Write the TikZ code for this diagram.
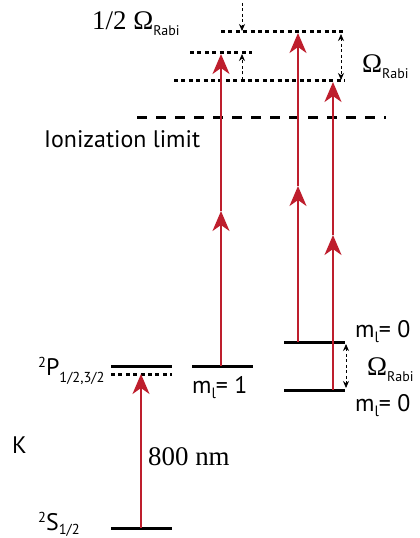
\documentclass[tikz,border=0pt]{standalone}
\usepackage{fontspec}
\setmainfont{PT Sans}
\newfontfamily\serif{Liberation Serif}
\usetikzlibrary{arrows.meta}
\definecolor{myred}{RGB}{190,30,45}
\tikzset{
  level/.style={line width=3bp, black},
  dotlevel/.style={line width=3bp, black, dash pattern=on 4bp off 3.4bp},
  ionlevel/.style={line width=3bp, black, dash pattern=on 10bp off 9bp},
  laser/.style={line width=2.3bp, myred, -{Stealth[length=20bp,width=17bp,inset=6bp]}},
  gap/.style={line width=0.8bp, black, dash pattern=on 3bp off 2.5bp, -{Stealth[length=7bp,width=6bp]}},
  gapboth/.style={line width=0.8bp, black, dash pattern=on 3bp off 2.5bp, {Stealth[length=7bp,width=6bp]}-{Stealth[length=7bp,width=6bp]}},
  lbl/.style={inner sep=0, anchor=base west, font=\fontsize{24}{26}\selectfont}
}
\newcommand{\rabi}{{\fontsize{14}{15}\selectfont Rabi}}
\newcommand{\lsub}{\raisebox{-5bp}{\fontsize{15}{15}\selectfont l}}
\begin{document}
\begin{tikzpicture}[x=1bp, y=-1bp]
\useasboundingbox (0,0) rectangle (419,538);
% levels
\draw[level] (111,528) -- (172,528);
\coordinate (g) at (141,528);
\draw[level] (111,366) -- (172,366);
\draw[dotlevel] (111,374) -- (172,374);
\coordinate (p) at (141,374);
\draw[level] (192,366) -- (253,366);
\coordinate (m1) at (221,366);
\draw[level] (284,342) -- (345,342);
\draw[level] (284,390) -- (345,390);
\coordinate (m0a) at (298,342);
\coordinate (m0b) at (333,390);
% upper dotted levels
\draw[dotlevel] (221,32) -- (345,32);
\draw[dotlevel] (190,53) -- (252,53);
\draw[dotlevel] (174,81) -- (345,81);
\draw[ionlevel] (137,118) -- (386,118);
% laser arrows
\coordinate (m1mid) at (221,211);
\coordinate (m1top) at (221,54);
\coordinate (aMid) at (298,186);
\coordinate (aTop) at (298,33);
\coordinate (bMid) at (333,235);
\coordinate (bTop) at (333,82);
\draw[laser] (g) -- (p);
\draw[laser] (m1) -- (m1mid);
\draw[laser] (m1mid) -- (m1top);
\draw[laser] (m0a) -- (aMid);
\draw[laser] (aMid) -- (aTop);
\draw[laser] (m0b) -- (bMid);
\draw[laser] (bMid) -- (bTop);
% gap arrows
\coordinate (s1) at (242,3);
\coordinate (s1e) at (242,31);
\coordinate (s2) at (242,80);
\coordinate (s2e) at (242,54);
\draw[gap] (s1) -- (s1e);
\draw[gap] (s2) -- (s2e);
\coordinate (o1a) at (341,34);
\coordinate (o1b) at (341,80);
\draw[gapboth] (o1a) -- (o1b);
\coordinate (o2a) at (346,344);
\coordinate (o2b) at (346,388);
\draw[gapboth] (o2a) -- (o2b);
% labels
\node[lbl] (ion) at (44,148) {Ionization limit};
\node[lbl] (half) at (92,30) {{\serif\fontsize{27}{28}\selectfont 1/2 Ω}\raisebox{-6bp}{\rabi}};
\node[lbl] (om1) at (362,73) {{\serif\fontsize{27}{28}\selectfont Ω}\raisebox{-6bp}{\rabi}};
\node[lbl] (om2) at (367,375) {{\serif\fontsize{27}{28}\selectfont Ω}\raisebox{-6bp}{\rabi}};
\node[lbl] (ml0a) at (355,337) {m\lsub= 0};
\node[lbl] (ml0b) at (355,411) {m\lsub= 0};
\node[lbl] (ml1) at (192,393) {m\lsub= 1};
\node[lbl] (P) at (38,375) {\raisebox{8bp}{\fontsize{14.5}{15}\selectfont 2}P\raisebox{-7bp}{\fontsize{14.5}{15}\selectfont 1/2,3/2}};
\node[lbl] (S) at (38,530) {\raisebox{8bp}{\fontsize{14.5}{15}\selectfont 2}S\raisebox{-4bp}{\fontsize{14.5}{15}\selectfont 1/2}};
\node[lbl] (K) at (12,453) {K};
\node[lbl] (nm) at (148,465) {\serif\fontsize{27}{28}\selectfont 800 nm};
\end{tikzpicture}
\end{document}
